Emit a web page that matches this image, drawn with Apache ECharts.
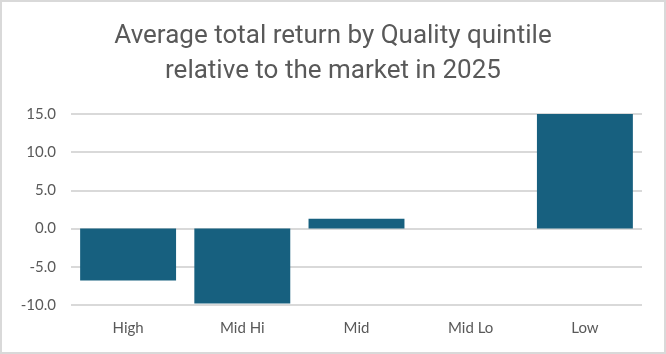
<!DOCTYPE html>
<html><head><meta charset="utf-8">
<script src="https://cdn.jsdelivr.net/npm/echarts@6/dist/echarts.min.js"></script>
<style>html,body{margin:0;padding:0;background:#fff}#c{width:666px;height:354px;box-sizing:border-box;border:2px solid #d9d9d9}</style>
</head><body><div id="c"></div>
<script>
const titleText = "Average total return by Quality quintile\nrelative to the market in 2025";
const categories = ["High", "Mid Hi", "Mid", "Mid Lo", "Low"];
const values = [-6.8, -9.8, 1.3, 0.0, 15.0];
const yTicks = {min: -10, max: 15, interval: 5};

const chart = echarts.init(document.getElementById('c'));
chart.setOption({
  animation: false,
  title: {
    text: titleText, left: 'center', top: 12,
    textStyle: {fontFamily: 'Roboto, sans-serif', fontSize: 26, fontWeight: 'normal', color: '#595959', lineHeight: 35}
  },
  grid: {left: 69, right: 22, top: 112, bottom: 47},
  xAxis: {
    type: 'category', data: categories,
    axisLine: {show: false}, axisTick: {show: false},
    axisLabel: {color: '#595959', fontSize: 15, fontFamily: 'Lato, sans-serif', margin: 16}
  },
  yAxis: {
    type: 'value', min: yTicks.min, max: yTicks.max, interval: yTicks.interval,
    axisLine: {show: false}, axisTick: {show: false},
    splitLine: {lineStyle: {color: '#d9d9d9', width: 2}},
    axisLabel: {color: '#595959', fontSize: 15, fontFamily: 'Lato, sans-serif', margin: 15,
      formatter: v => v.toFixed(1)}
  },
  series: [{
    type: 'bar', data: values, barCategoryGap: '16%',
    itemStyle: {color: '#17607f'}
  }]
});
</script></body></html>
